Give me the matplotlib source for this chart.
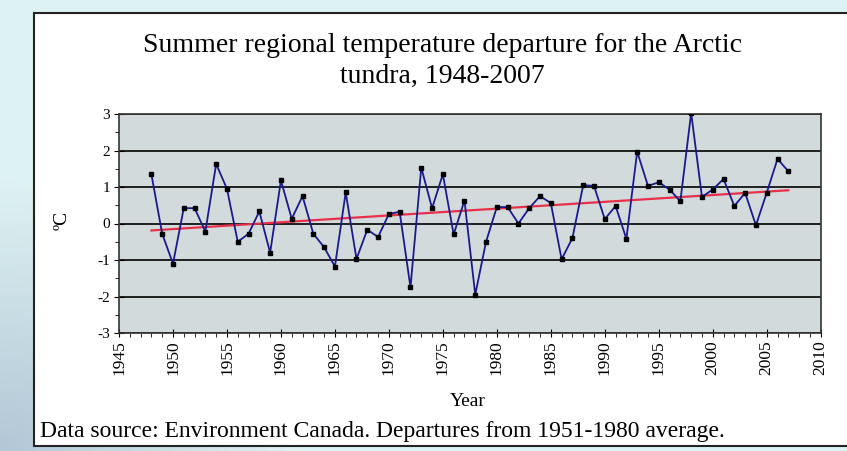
import numpy as np
import matplotlib
matplotlib.use("Agg")
import matplotlib.pyplot as plt
from matplotlib.patches import Rectangle
from matplotlib.ticker import MultipleLocator

# Summer temperature departure, Arctic tundra
years = list(range(1948, 2008))
departure = [
    1.35, -0.28, -1.10, 0.42, 0.42, -0.22, 1.63, 0.95, -0.50, -0.28,
    0.33, -0.80, 1.18, 0.13, 0.75, -0.28, -0.65, -1.18, 0.85, -0.97,
    -0.17, -0.37, 0.26, 0.32, -1.75, 1.53, 0.42, 1.35, -0.30, 0.63,
    -1.95, -0.50, 0.45, 0.45, 0.00, 0.42, 0.75, 0.56, -0.98, -0.40,
    1.05, 1.03, 0.12, 0.48, -0.42, 1.97, 1.03, 1.13, 0.93, 0.61,
    3.03, 0.73, 0.93, 1.22, 0.48, 0.84, -0.05, 0.84, 1.77, 1.43,
]
x_ticks = list(range(1945, 2011, 5))
y_ticks = [-3, -2, -1, 0, 1, 2, 3]

title = "Summer regional temperature departure for the Arctic\ntundra, 1948-2007"
footer = "Data source: Environment Canada. Departures from 1951-1980 average."

plt.rcParams['font.family'] = ['Liberation Serif', 'DejaVu Serif']
plt.rcParams['axes.unicode_minus'] = False

fig = plt.figure(figsize=(8.47, 4.51), dpi=100)

# light cyan page background with a soft darker patch bottom-left
bg = fig.add_axes([0, 0, 1, 1], zorder=-10)
gx, gy = np.meshgrid(np.linspace(0, 1, 200), np.linspace(0, 1, 100))
shade = np.clip(1 - np.hypot(gx / 0.35, (1 - gy) / 0.6), 0, 1)
top_col = np.array([0.87, 0.95, 0.95])
low_col = np.array([0.70, 0.78, 0.84])
img = top_col[None, None, :] * (1 - shade[..., None]) + low_col[None, None, :] * shade[..., None]
bg.imshow(img, extent=[0, 1, 0, 1], aspect='auto', origin='upper')
bg.set_axis_off()

# white chart box
fig.patches.append(Rectangle((34 / 847, 5 / 451), 1.0, 433 / 451, transform=fig.transFigure,
                             facecolor='white', edgecolor='#222222', linewidth=1.5, zorder=-5))

ax = fig.add_axes([119 / 847, 1 - 333 / 451, 701.7 / 847, 219 / 451])
ax.set_facecolor('#d3dadb')

ax.plot(years, departure, color='#1a1a8a', linewidth=1.3, marker='s', markersize=2.5,
        markerfacecolor='black', markeredgecolor='black', zorder=3)

# linear trend
coef = np.polyfit(years, departure, 1)
ax.plot(years, np.polyval(coef, years), color='#e8304a', linewidth=1.6, zorder=2)

ax.set_xlim(1945, 2010)
ax.set_ylim(-3, 3)
ax.set_xticks(x_ticks)
ax.xaxis.set_minor_locator(MultipleLocator(1))
ax.set_yticks(y_ticks)
ax.yaxis.set_minor_locator(MultipleLocator(0.5))
ax.grid(axis='y', which='major', color='black', linewidth=1.2)
ax.set_axisbelow(True)

ax.tick_params(axis='x', which='major', direction='inout', length=6, labelsize=12.5, rotation=90, pad=2)
ax.tick_params(axis='x', which='minor', direction='out', length=3)
ax.tick_params(axis='y', which='major', direction='inout', length=7, labelsize=11, pad=3)
ax.tick_params(axis='y', which='minor', direction='out', length=3)
for s in ax.spines.values():
    s.set_color('#333333')
    s.set_linewidth(1.2)

fig.text(442 / 847, 1 - 61 / 451, title, ha='center', va='center', fontsize=20,
         multialignment='center', linespacing=1.3)
fig.text(468 / 847, 1 - 402 / 451, "Year", ha='center', va='center', fontsize=14)
fig.text(62 / 847, 1 - 220 / 451, "ºC", ha='center', va='center', fontsize=14, rotation=90)
fig.text(40 / 847, 1 - 432 / 451, footer, ha='left', va='center', fontsize=17)

fig.savefig("out.png", dpi=100)
